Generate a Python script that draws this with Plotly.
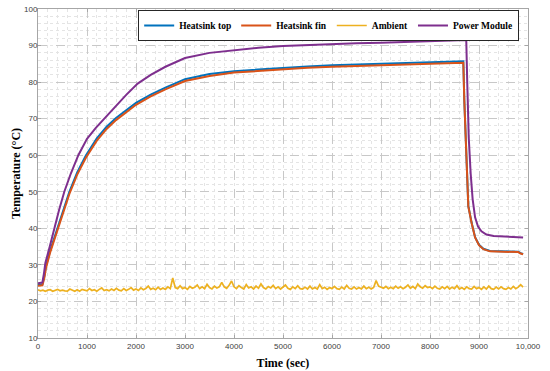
import plotly.graph_objects as go

# ---------------- data ----------------
t_top = [0, 90, 130, 160, 250, 401, 520, 640, 800, 980, 1200, 1400, 1592, 1800, 2000,
         2300, 2600, 3000, 3500, 4000, 4500, 5000, 5500, 6000, 6500, 7000, 7500, 8000,
         8500, 8680, 8700, 8740, 8782, 8850, 8920, 9000, 9090, 9224, 9400, 9565, 9800,
         9850, 9900]
heatsink_top = [24.6, 24.7, 27.0, 29.5, 34.0, 40.0, 45.0, 50.0, 55.3, 60.0, 64.6, 67.8,
                70.2, 72.4, 74.3, 76.6, 78.5, 80.8, 82.2, 83.0, 83.5, 83.9, 84.3, 84.6,
                84.8, 85.0, 85.2, 85.4, 85.6, 85.7, 75.1, 58.1, 46.1, 41.5, 37.6, 35.5,
                34.4, 33.8, 33.7, 33.7, 33.6, 33.2, 33.0]
heatsink_fin = [24.3, 24.4, 26.5, 29.0, 33.5, 39.5, 44.5, 49.4, 54.7, 59.4, 64.0, 67.2,
                69.6, 71.8, 73.8, 76.1, 78.0, 80.3, 81.7, 82.6, 83.1, 83.5, 83.9, 84.2,
                84.4, 84.6, 84.8, 85.0, 85.2, 85.3, 75.0, 58.0, 46.0, 41.4, 37.5, 35.4,
                34.3, 33.7, 33.6, 33.6, 33.5, 33.1, 32.9]

t_pm = [0, 90, 120, 150, 240, 333, 430, 537, 670, 823, 1000, 1180, 1354, 1600, 1800,
        2034, 2300, 2600, 3000, 3500, 4000, 4500, 5000, 5500, 6000, 6500, 7000, 7500,
        8000, 8500, 8740, 8760, 8790, 8830, 8870, 8920, 8980, 9050, 9150, 9300, 9600,
        9900]
power_module = [25.0, 25.2, 27.5, 30.5, 35.0, 40.0, 45.0, 50.0, 55.0, 60.0, 64.5, 67.5,
                70.0, 73.8, 76.5, 79.6, 82.0, 84.2, 86.6, 88.0, 88.8, 89.4, 89.9, 90.2,
                90.4, 90.6, 90.8, 91.0, 91.2, 91.4, 91.5, 80.0, 65.0, 55.0, 48.0, 43.0,
                40.5, 39.2, 38.3, 37.9, 37.6, 37.5]

t_amb = [i * 50 for i in range(199)]
ambient = [
    23.2, 22.9, 23.1, 22.8, 23.1, 23.2, 22.8, 23.0, 23.3, 22.9, 23.1, 22.9, 22.8, 23.4, 23.0, 22.8, 23.2, 22.8, 23.3, 23.0,
    22.9, 23.5, 23.0, 23.2, 22.8, 23.3, 23.7, 23.0, 23.2, 22.9, 23.4, 23.0, 23.6, 23.1, 22.9, 23.5, 23.0, 23.3, 23.8, 23.1,
    23.4, 23.0, 23.7, 23.2, 23.5, 24.2, 23.3, 23.6, 23.2, 23.9, 23.3, 23.7, 23.3, 24.0, 23.5, 26.4, 23.8, 23.5, 24.3, 23.5,
    23.8, 23.3, 24.1, 23.6, 23.9, 24.5, 23.5, 24.0, 23.5, 24.7, 23.8, 23.4, 24.2, 23.7, 24.0, 25.2, 24.0, 23.6, 24.4, 25.6,
    24.0, 23.5, 24.3, 23.8, 23.4, 24.6, 23.7, 24.0, 23.4, 24.2, 23.6, 24.8, 23.8, 23.4, 24.1, 23.7, 24.4, 23.5, 24.0, 23.4,
    23.9, 24.5, 23.6, 23.3, 24.0, 23.5, 24.3, 23.5, 23.4, 23.9, 23.4, 24.2, 23.4, 23.8, 23.4, 24.6, 23.5, 23.9, 23.3, 23.8,
    23.5, 24.1, 23.5, 23.3, 23.9, 23.4, 24.4, 23.6, 23.4, 24.0, 23.4, 23.8, 23.4, 24.2, 23.5, 23.9, 23.4, 23.8, 25.7, 24.2,
    23.9, 23.6, 24.1, 23.5, 23.9, 23.5, 24.2, 23.6, 24.0, 23.5, 23.9, 24.5, 23.6, 24.1, 23.5, 24.8, 24.0, 23.6, 24.3, 23.8,
    24.0, 23.5, 24.2, 23.6, 23.4, 24.0, 23.5, 24.1, 23.4, 23.9, 23.5, 24.3, 23.4, 23.8, 23.3, 24.0, 23.5, 23.4, 24.1, 23.5,
    23.8, 23.3, 24.0, 23.4, 24.2, 23.5, 23.3, 23.9, 23.4, 24.0, 23.5, 23.3, 23.8, 23.4, 24.1, 23.5, 23.9, 24.6, 23.9,
]

x_tickvals = [0, 1000, 2000, 3000, 4000, 5000, 6000, 7000, 8000, 9000, 10000]
x_ticktext = ["0", "1000", "2000", "3000", "4000", "5000", "6000", "7000", "8000", "9000", "10,000"]
y_tickvals = [10, 20, 30, 40, 50, 60, 70, 80, 90, 100]

# ---------------- figure ----------------
fig = go.Figure()
fig.add_trace(go.Scatter(x=t_top, y=heatsink_top, mode="lines", name="Heatsink top",
                         line=dict(color="#0072BD", width=2)))
fig.add_trace(go.Scatter(x=t_top, y=heatsink_fin, mode="lines", name="Heatsink fin",
                         line=dict(color="#D95319", width=2)))
fig.add_trace(go.Scatter(x=t_amb, y=ambient, mode="lines", name="Ambient",
                         line=dict(color="#EDB120", width=1.7)))
fig.add_trace(go.Scatter(x=t_pm, y=power_module, mode="lines", name="Power Module",
                         line=dict(color="#7E2F8E", width=2)))

tick_font = dict(family="Liberation Sans, Arial", size=8, color="#404040")
title_font = dict(family="Liberation Serif, Times New Roman", size=12, color="#000000", weight="bold")

common = dict(
    showline=True, linecolor="#a6a6a6", linewidth=1, mirror="ticks",
    ticks="inside", ticklen=3, tickcolor="#a6a6a6",
    showgrid=True, gridcolor="#c8c8c8", griddash="dash", gridwidth=1,
    zeroline=False, tickfont=tick_font,
)

fig.update_xaxes(range=[0, 10000], tickvals=x_tickvals, ticktext=x_ticktext,
                 minor=dict(dtick=200, showgrid=True, gridcolor="#e4e4e4", griddash="dot", ticks=""),
                 title=dict(text="Time (sec)", font=title_font, standoff=9), **common)
fig.update_yaxes(range=[10, 100], tickvals=y_tickvals, ticklabelstandoff=-2,
                 minor=dict(dtick=2, showgrid=True, gridcolor="#e4e4e4", griddash="dot", ticks=""),
                 title=dict(text="Temperature (°C)", font=title_font, standoff=0), **common)

fig.update_layout(
    width=550, height=371,
    margin=dict(l=38, r=22, t=9, b=33, autoexpand=False),
    plot_bgcolor="white", paper_bgcolor="white",
    legend=dict(orientation="h", x=0.982, xanchor="right", y=0.997, yanchor="top",
                bgcolor="white", bordercolor="#262626", borderwidth=1,
                font=dict(family="Liberation Serif, Times New Roman", size=9.5, color="#000000", weight="bold"),
                itemwidth=30, tracegroupgap=0),
    showlegend=True,
)

fig.write_html("out.html", config={"displayModeBar": False},
               post_script="document.body.style.margin='0px';")
